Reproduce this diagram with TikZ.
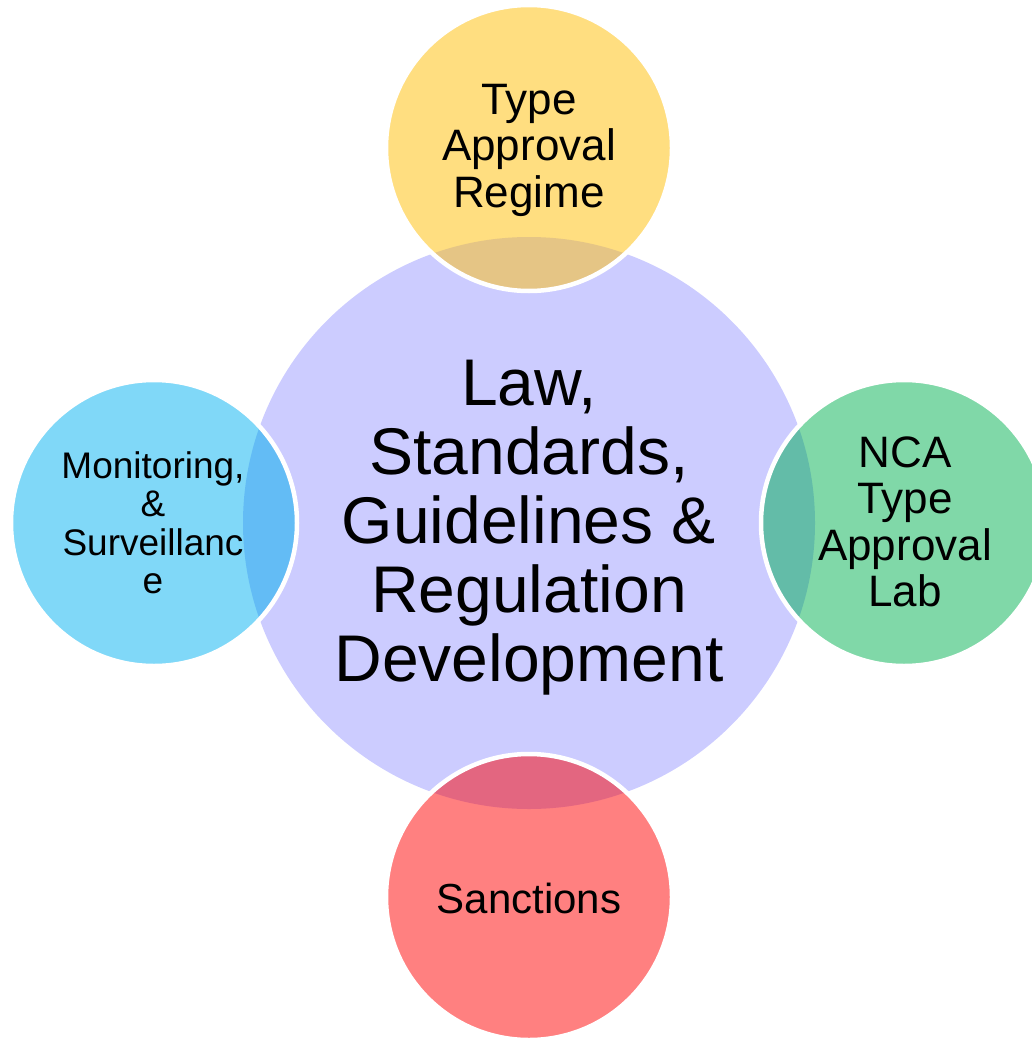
\documentclass[tikz,border=0pt]{standalone}
\usepackage{fontspec}
\setmainfont{Liberation Sans}
\definecolor{hubfill}{RGB}{204,204,255}
\definecolor{yelfill}{RGB}{255,222,128}
\definecolor{yelover}{RGB}{229,197,133}
\definecolor{blufill}{RGB}{128,216,248}
\definecolor{bluover}{RGB}{99,188,245}
\definecolor{grnfill}{RGB}{128,216,168}
\definecolor{grnover}{RGB}{99,188,168}
\definecolor{redfill}{RGB}{255,128,128}
\definecolor{redover}{RGB}{227,102,128}
\tikzset{
  hubtext/.style={align=center, inner sep=0pt, font=\fontsize{66}{69}\selectfont},
  sattext/.style={align=center, inner sep=0pt, font=\fontsize{44}{46.5}\selectfont},
  smalltext/.style={align=center, inner sep=0pt, font=\fontsize{37}{38.5}\selectfont},
  ring/.style={draw=white, line width=4.5pt}
}
% satellite: centre, fill colour, overlap colour
\newcommand{\satellite}[3]{%
  \fill[#2] #1 circle (143);
  \begin{scope}
    \clip (hub) circle (286);
    \fill[#3] #1 circle (143);
  \end{scope}
  \draw[ring] #1 circle (143);
}
\begin{document}
\begin{tikzpicture}[x=1pt,y=-1pt]
  \useasboundingbox (0,0) rectangle (1032,1038);
  \coordinate (hub) at (529,523);
  \coordinate (top) at (529,148);
  \coordinate (left) at (154,523);
  \coordinate (right) at (904,523);
  \coordinate (bottom) at (529,897);
  \fill[hubfill] (hub) circle (286);
  \satellite{(top)}{yelfill}{yelover}
  \satellite{(left)}{blufill}{bluover}
  \satellite{(right)}{grnfill}{grnover}
  \satellite{(bottom)}{redfill}{redover}
  \node[hubtext] (hubt) at (529,528) {Law,\\Standards,\\Guidelines \&\\Regulation\\Development};
  \node[sattext] (topt) at (529,150) {Type\\Approval\\Regime};
  \node[smalltext] (leftt) at (153,523) {Monitoring,\\\&\\Surveillanc\\e};
  \node[sattext] (rightt) at (905,522) {NCA\\Type\\Approval\\Lab};
  \node[font=\fontsize{42}{44}\selectfont, inner sep=0pt] (bottomt) at (529,898) {Sanctions};
\end{tikzpicture}
\end{document}
